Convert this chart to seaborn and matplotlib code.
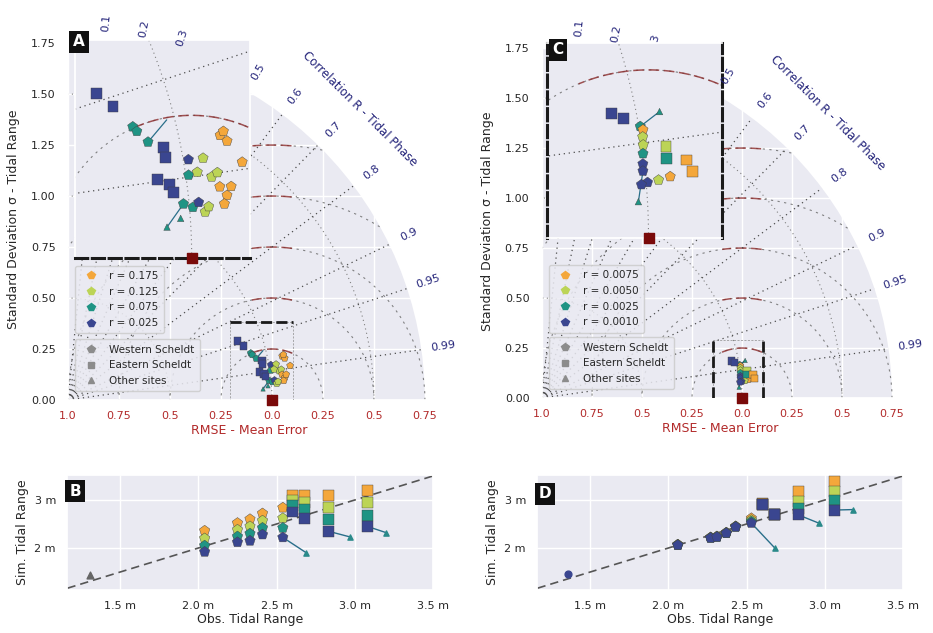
import numpy as np
import pandas as pd
import matplotlib
matplotlib.use("Agg")
import matplotlib.pyplot as plt
import seaborn as sns
from matplotlib.patches import Wedge
from matplotlib.lines import Line2D

sns.set_theme(style="darkgrid")
plt.rcParams["font.family"] = ["DejaVu Sans"]

# ---------------- data ----------------
LEVEL_COLORS = ["#f4a73b", "#bcd456", "#1f9484", "#3a4690"]   # orange, lime, teal, navy
LEVELS_A = ["r = 0.175", "r = 0.125", "r = 0.075", "r = 0.025"]
LEVELS_C = ["r = 0.0075", "r = 0.0050", "r = 0.0025", "r = 0.0010"]
SITES = ["Western Scheldt", "Eastern Scheldt", "Other sites"]
SITE_KEYS = ["W", "E", "O"]
SITE_MARKERS = {"W": "p", "E": "s", "O": "^"}
CORR_TICKS = [0.1, 0.2, 0.3, 0.4, 0.5, 0.6, 0.7, 0.8, 0.9, 0.95, 0.99]
STD_TICKS = [0.0, 0.25, 0.5, 0.75, 1.0, 1.25, 1.5, 1.75]
RMSE_TICKS = [-1.0, -0.75, -0.5, -0.25, 0.0, 0.25, 0.5, 0.75]

# Panel A (normalised std, correlation)
a_std = [0.881, 0.901, 0.925, 0.930, 0.945, 0.970, 0.970, 1.009, 1.035, 1.072,
         1.082, 1.079, 1.102, 1.045, 1.056, 1.005, 1.021, 1.057, 1.068, 1.077,
         1.062, 0.949, 0.969, 0.975, 0.990, 1.006, 1.017, 1.027, 1.034, 0.958, 0.983]
a_corr = [0.9447, 0.9558, 0.9686, 0.9711, 0.9766, 0.9800, 0.9834, 0.9853, 0.9856, 0.9797,
          0.9819, 0.9786, 0.9883, 0.9907, 0.9899, 0.9895, 0.9891, 0.9930, 0.9947, 0.9932,
          0.9960, 0.9895, 0.9912, 0.9930, 0.9954, 0.9961, 0.9954, 0.9969, 0.9962, 0.9984, 0.9975]
a_level = [3, 3, 2, 2, 2, 3, 3, 3, 1, 0, 0, 0, 0, 1, 1, 2, 1, 0, 0, 0, 0, 3, 3, 3, 2, 2, 3, 1, 1, 2, 2]
a_site = ["E", "E", "W", "W", "W", "E", "E"] + ["W"] * 14 + ["E"] * 3 + ["W"] * 5 + ["O", "O"]
a_link_std = [(0.945, 0.986), (0.990, 0.958)]
a_link_corr = [(0.9766, 0.9694), (0.9954, 0.9984)]

# Panel C
c_std = [0.965, 0.980, 1.002, 1.033, 1.005, 1.003, 1.002, 1.000, 0.998, 0.997,
         1.034, 1.032, 1.061, 1.067, 1.035, 1.018, 1.002, 0.993, 0.987]
c_corr = [0.9815, 0.9834, 0.9862, 0.9833, 0.9871, 0.9887, 0.9904, 0.9921, 0.9939, 0.9950,
          0.9913, 0.9934, 0.9940, 0.9957, 0.9961, 0.9964, 0.9966, 0.9968, 0.9985]
c_level = [3, 3, 2, 2, 0, 1, 1, 2, 3, 3, 1, 2, 0, 0, 0, 1, 3, 3, 2]
c_site = ["E", "E", "W", "O", "W", "W", "W", "W", "W", "W", "E", "E", "E", "E", "W", "W", "W", "W", "O"]
c_link_std = [(1.002, 1.033), (0.997, 0.987)]
c_link_corr = [(0.9862, 0.9833), (0.9950, 0.9985)]

# Panel B (tidal range, m)
b_obs = [2.04, 2.25, 2.33, 2.41, 2.54, 2.60, 2.68, 2.83, 3.08]
b_site = ["W", "W", "W", "W", "W", "E", "E", "E", "E"]
b_sim_0175 = [2.36, 2.52, 2.60, 2.72, 2.84, 3.10, 3.10, 3.10, 3.20]
b_sim_0125 = [2.20, 2.38, 2.45, 2.57, 2.62, 3.00, 2.95, 2.85, 2.95]
b_sim_0075 = [2.05, 2.24, 2.30, 2.42, 2.42, 2.88, 2.80, 2.60, 2.68]
b_sim_0025 = [1.92, 2.12, 2.15, 2.28, 2.22, 2.75, 2.62, 2.35, 2.45]
b_other = (1.31, 1.44)
b_links = [((2.54, 2.22), (2.69, 1.90)), ((2.83, 2.35), (2.97, 2.23)), ((3.08, 2.45), (3.20, 2.32))]

# Panel D
d_obs = [2.06, 2.27, 2.31, 2.37, 2.43, 2.53, 2.60, 2.68, 2.83, 3.06]
d_site = ["W", "W", "W", "W", "W", "W", "E", "E", "E", "E"]
d_sim_0075 = [2.07, 2.22, 2.24, 2.32, 2.45, 2.62, 2.92, 2.70, 3.17, 3.38]
d_sim_0050 = [2.07, 2.22, 2.24, 2.32, 2.45, 2.58, 2.91, 2.70, 2.96, 3.17]
d_sim_0025 = [2.06, 2.21, 2.23, 2.31, 2.44, 2.55, 2.90, 2.69, 2.83, 3.00]
d_sim_0010 = [2.06, 2.21, 2.23, 2.31, 2.44, 2.52, 2.90, 2.69, 2.69, 2.79]
d_other = (1.36, 1.46)
d_links = [((2.53, 2.52), (2.68, 2.00)), ((2.83, 2.69), (2.96, 2.52)), ((3.06, 2.79), (3.18, 2.80))]

NAVY = "#24247a"
RED = "#b22a2a"
PAL = {i: c for i, c in enumerate(LEVEL_COLORS)}


def taylor_xy(std, corr):
    std = np.asarray(std, float)
    corr = np.asarray(corr, float)
    return std * corr - 1.0, std * np.sqrt(1 - corr ** 2)


def draw_bg(ax):
    ax.set_facecolor("white")
    ax.add_patch(Wedge((-1, 0), 1.75, 0, 90, facecolor="#EAEAF2", edgecolor="none", zorder=0))
    t = np.linspace(0, np.pi / 2, 400)
    for r in [0.5, 1.0, 1.5]:
        ax.plot(-1 + r * np.cos(t), r * np.sin(t), ls=(0, (1, 3)), color="0.5", lw=0.8, zorder=1)
    tt = np.linspace(0, np.pi, 800)
    for r in [0.25, 0.5, 0.75, 1.0, 1.25]:
        xs, ys = r * np.cos(tt), r * np.sin(tt)
        inside = (xs + 1) ** 2 + ys ** 2 <= 1.75 ** 2
        ax.plot(np.where(inside, xs, np.nan), ys, ls=(0, (2, 4)), color="0.4",
                lw=0.8, alpha=0.8, zorder=1)
        top = np.abs(xs) < 0.1
        ax.plot(np.where(top, xs, np.nan), ys, ls=(0, (7, 3)), color="#8b2a2a",
                lw=1.1, alpha=0.8, zorder=1)
    for R in CORR_TICKS:
        th = np.arccos(R)
        ax.plot([-1, -1 + 1.75 * np.cos(th)], [0, 1.75 * np.sin(th)], ls=(0, (1, 3)),
                color="0.3", lw=0.9, zorder=1)


def draw_points(ax, std, corr, level, site, links_std, links_corr, big):
    x, y = taylor_xy(std, corr)
    df = pd.DataFrame({"x": x, "y": y, "level": level, "site": site})
    for i in range(len(links_std)):
        lx, ly = taylor_xy(links_std[i], links_corr[i])
        ax.plot(lx, ly, color="#2a6f8a", lw=0.9, zorder=3)
    for key in SITE_KEYS:
        sub = df[df.site == key]
        if sub.empty:
            continue
        s = (60 if big else 28) if key != "O" else (22 if big else 10)
        sns.scatterplot(data=sub, x="x", y="y", hue="level", palette=PAL,
                        marker=SITE_MARKERS[key], s=s, edgecolor="0.25", linewidth=0.3,
                        legend=False, ax=ax, zorder=4, clip_on=True)
    ax.scatter([0], [0], marker="s", s=45 if not big else 55, color="#7a0a0a",
               zorder=6, clip_on=False)
    ax.set_xlabel("")
    ax.set_ylabel("")


def taylor_panel(fig, rect, inset_rect, inset_lim, std, corr, level, site, lstd, lcorr,
                 levels_labels, inset_edges):
    ax = fig.add_axes(rect)
    draw_bg(ax)
    draw_points(ax, std, corr, level, site, lstd, lcorr, big=False)
    ax.set_xlim(-1.0, 0.78)
    ax.set_ylim(0, 1.77)
    ax.set_xticks(RMSE_TICKS)
    ax.set_xticklabels([f"{abs(v):g}" if abs(v) in (0.25, 0.75) else f"{abs(v):.1f}" for v in RMSE_TICKS])
    ax.set_yticks(STD_TICKS)
    ax.set_yticklabels([f"{v:.2f}" for v in STD_TICKS])
    ax.tick_params(axis="x", labelcolor=RED, labelsize=8, pad=2)
    ax.tick_params(axis="y", labelsize=8, pad=3)
    ax.set_xlabel("RMSE - Mean Error", color=RED, fontsize=9, labelpad=2)
    ax.set_ylabel("Standard Deviation σ - Tidal Range", fontsize=9, labelpad=8)

    # inset (position known now)
    x0, x1, y1 = inset_lim
    ins = fig.add_axes(inset_rect)
    W, H = fig.bbox.width, fig.bbox.height
    ib = (inset_rect[0] * W, inset_rect[1] * H,
          (inset_rect[0] + inset_rect[2]) * W, (inset_rect[1] + inset_rect[3]) * H)

    for R in CORR_TICKS:
        th = np.arccos(R)
        px, py = -1 + 1.86 * np.cos(th), 1.86 * np.sin(th)
        dx, dy = ax.transData.transform((px, py))
        hidden = ib[0] <= dx <= ib[2] and ib[1] <= dy <= ib[3]
        kw = dict(rotation=np.degrees(th), ha="center", va="center", color=NAVY, fontsize=8,
                  rotation_mode="anchor")
        if hidden:
            ax.text(px, py, f"{R:g}", **kw)
        else:
            fig.text(px, py, f"{R:g}", transform=ax.transData, zorder=40, **kw)
    fig.text(-1 + 2.02 * np.cos(np.pi / 4), 2.02 * np.sin(np.pi / 4), "Correlation R - Tidal Phase",
             transform=ax.transData, rotation=-45, ha="center", va="center", color=NAVY,
             fontsize=8.5, rotation_mode="anchor", zorder=40)

    # zoom rectangle marks
    ls = (0, (4, 1.5))
    ax.plot([x0, x1, x1, x0, x0], [0, 0, y1, y1, 0], color="0.55", lw=0.5, ls=(0, (3, 2)), zorder=5)
    if inset_edges == "tb":
        ax.plot([x0, x1], [y1, y1], color="k", lw=2, ls=ls, zorder=6)
    else:
        ax.plot([x0, x0], [0, y1], color="k", lw=2, ls=ls, zorder=6)
        ax.plot([x1, x1], [0, y1], color="k", lw=2, ls=ls, zorder=6)

    # legends
    col_h = [Line2D([], [], marker="p", ls="", color=c, markersize=6, label=l)
             for c, l in zip(LEVEL_COLORS, levels_labels)]
    site_h = [Line2D([], [], marker=SITE_MARKERS[k], ls="", color="0.55", markersize=m, label=l)
              for k, l, m in zip(SITE_KEYS, SITES, [6, 5, 4])]
    leg1 = ax.legend(handles=col_h, loc="lower left", bbox_to_anchor=(0.005, 0.17), fontsize=7.5,
                     labelspacing=0.55, handletextpad=0.8, borderpad=0.5, framealpha=0.85)
    leg1.set_zorder(20)
    ax.add_artist(leg1)
    leg2 = ax.legend(handles=site_h, loc="lower left", bbox_to_anchor=(0.005, 0.01), fontsize=7.5,
                     labelspacing=0.55, handletextpad=0.8, borderpad=0.5, framealpha=0.85)
    leg2.set_zorder(20)

    # inset content
    draw_bg(ins)
    draw_points(ins, std, corr, level, site, lstd, lcorr, big=True)
    ins.set_xlim(x0, x1)
    ins.set_ylim(0, y1)
    ins.set_xticks([])
    ins.set_yticks([])
    ins.set_facecolor("#EAEAF2")
    sides = ["bottom"] if inset_edges == "tb" else ["left", "right"]
    for s in sides:
        ins.spines[s].set_visible(True)
        ins.spines[s].set_color("k")
        ins.spines[s].set_linewidth(2.2)
        ins.spines[s].set_linestyle(ls)
    return ax


def scatter_panel(fig, rect, obs, site, sims, other, links, other_marker, other_color):
    ax = fig.add_axes(rect)
    rows = []
    for lev in range(4):
        for o, s, st in zip(obs, sims[lev], site):
            rows.append({"obs": o, "sim": s, "level": lev, "site": st})
    df = pd.DataFrame(rows)
    lim = np.array([1.0, 3.7])
    ax.plot(lim, lim, ls=(0, (5, 3)), color="#555555", lw=1.2, zorder=2)
    for (p0, p1) in links:
        ax.plot([p0[0], p1[0]], [p0[1], p1[1]], color="#2a6f8a", lw=1.0, zorder=3)
        ax.scatter([p1[0]], [p1[1]], marker="^", s=14, color="#2a8a8a", zorder=3)
    sns.scatterplot(data=df, x="obs", y="sim", hue="level", palette=PAL, style="site",
                    markers=SITE_MARKERS, s=62, edgecolor="0.25", linewidth=0.3,
                    legend=False, ax=ax, zorder=4)
    ax.scatter([other[0]], [other[1]], marker=other_marker, s=24, color=other_color, zorder=4)
    ax.set_xlim(1.16, 3.48)
    ax.set_ylim(1.125, 3.52)
    ax.set_xticks([1.5, 2.0, 2.5, 3.0, 3.5])
    ax.set_xticklabels(["1.5 m", "2.0 m", "2.5 m", "3.0 m", "3.5 m"])
    ax.set_yticks([2, 3])
    ax.set_yticklabels(["2 m", "3 m"])
    ax.tick_params(labelsize=8, pad=2)
    ax.set_xlabel("Obs. Tidal Range", fontsize=9, labelpad=1)
    ax.set_ylabel("Sim. Tidal Range", fontsize=9, labelpad=4)
    return ax


fig = plt.figure(figsize=(9.33, 6.33), dpi=100)

axA = taylor_panel(fig, [0.0729, 0.3681, 0.3891, 0.5703], [0.0804, 0.5924, 0.1876, 0.3444],
                   (-0.206, 0.103, 0.382), a_std, a_corr, a_level, a_site, a_link_std, a_link_corr,
                   LEVELS_A, "tb")
axC = taylor_panel(fig, [0.5809, 0.3712, 0.3816, 0.5592], [0.5863, 0.6240, 0.1876, 0.3081],
                   (-0.145, 0.105, 0.29), c_std, c_corr, c_level, c_site, c_link_std, c_link_corr,
                   LEVELS_C, "lr")
axB = scatter_panel(fig, [0.0718, 0.0679, 0.3923, 0.1817], b_obs, b_site,
                    [b_sim_0175, b_sim_0125, b_sim_0075, b_sim_0025], b_other, b_links, "^", "0.4")
axD = scatter_panel(fig, [0.5756, 0.0679, 0.3923, 0.1817], d_obs, d_site,
                    [d_sim_0075, d_sim_0050, d_sim_0025, d_sim_0010], d_other, d_links, "o", "#3a4690")

box = dict(boxstyle="square,pad=0.25", fc="#111111", ec="none")
for letter, (fx, fy) in zip("ABCD", [(79 / 933, 1 - 42 / 633), (75 / 933, 1 - 491 / 633),
                                     (558 / 933, 1 - 50 / 633), (545 / 933, 1 - 494 / 633)]):
    fig.text(fx, fy, letter, color="white", fontsize=11, fontweight="bold", ha="center",
             va="center", bbox=box, zorder=50)

fig.savefig("out.png", dpi=100)
